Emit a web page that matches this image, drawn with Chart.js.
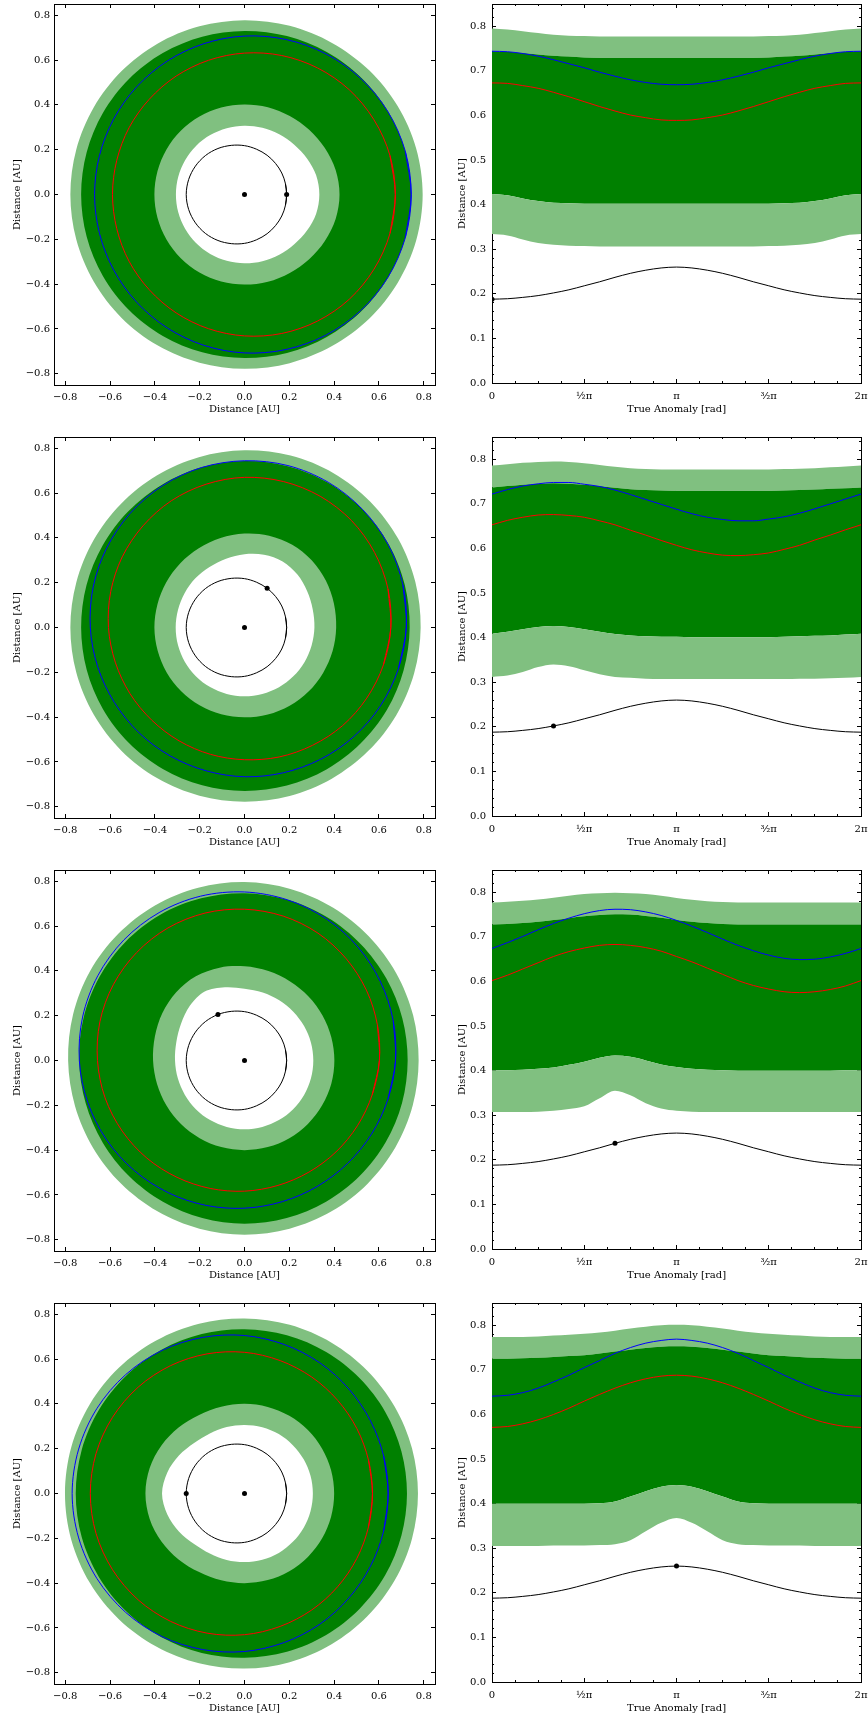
<!DOCTYPE html>
<html>
<head>
<meta charset="utf-8">
<script src="https://cdn.jsdelivr.net/npm/chart.js"></script>
<style>
  body { margin: 0; background: #fff; width: 868px; height: 1716px; position: relative; overflow: hidden; }
  canvas { position: absolute; }
</style>
</head>
<body>
<script>
// ── Data ────────────────────────────────────────────────────
// polar angle / true anomaly, degrees (right panels show 0..2π)
const angleDeg = [0, 15, 30, 45, 60, 75, 90, 105, 120, 135, 150, 165, 180,
                  195, 210, 225, 240, 255, 270, 285, 300, 315, 330, 345, 360];

const anomalyTicks  = [0, 90, 180, 270, 360];
const anomalyLabels = ['0', '½π', 'π', '³⁄₂π', '2π'];
const distanceTicks = [-0.8, -0.6, -0.4, -0.2, 0, 0.2, 0.4, 0.6, 0.8];
const radiusTicks   = [0, 0.1, 0.2, 0.3, 0.4, 0.5, 0.6, 0.7, 0.8];

// secondary star: orbit distance vs angle, and where it sits in each row
const starOrbit = [0.188, 0.189, 0.192, 0.196, 0.202, 0.209, 0.218, 0.227, 0.237, 0.246, 0.253, 0.258, 0.260,
                   0.258, 0.253, 0.246, 0.237, 0.227, 0.218, 0.209, 0.202, 0.196, 0.192, 0.189, 0.188];
const starAngle = [0, 60, 120, 180];
const starDist  = [0.188, 0.202, 0.237, 0.260];

// row 1
const optOuter1  = [0.795, 0.793, 0.789, 0.785, 0.781, 0.779, 0.778, 0.777, 0.777, 0.777, 0.777, 0.777, 0.777,
                    0.777, 0.777, 0.777, 0.777, 0.777, 0.778, 0.779, 0.781, 0.785, 0.789, 0.793, 0.795];
const consOuter1 = [0.744, 0.743, 0.740, 0.737, 0.734, 0.732, 0.730, 0.729, 0.729, 0.729, 0.729, 0.729, 0.729,
                    0.729, 0.729, 0.729, 0.729, 0.729, 0.730, 0.732, 0.734, 0.737, 0.740, 0.743, 0.744];
const consInner1 = [0.424, 0.421, 0.414, 0.408, 0.404, 0.403, 0.402, 0.402, 0.402, 0.402, 0.402, 0.402, 0.402,
                    0.402, 0.402, 0.402, 0.402, 0.402, 0.402, 0.403, 0.404, 0.408, 0.414, 0.421, 0.424];
const optInner1  = [0.334, 0.331, 0.322, 0.314, 0.310, 0.308, 0.307, 0.306, 0.306, 0.306, 0.306, 0.306, 0.306,
                    0.306, 0.306, 0.306, 0.306, 0.306, 0.307, 0.308, 0.310, 0.314, 0.322, 0.331, 0.334];
const blueOrbit1 = [0.744, 0.743, 0.739, 0.733, 0.725, 0.716, 0.707, 0.697, 0.688, 0.680, 0.674, 0.670, 0.669,
                    0.670, 0.674, 0.680, 0.688, 0.697, 0.707, 0.716, 0.725, 0.733, 0.739, 0.743, 0.744];
const redOrbit1  = [0.673, 0.672, 0.667, 0.661, 0.652, 0.642, 0.631, 0.620, 0.610, 0.601, 0.595, 0.590, 0.589,
                    0.590, 0.595, 0.601, 0.610, 0.620, 0.631, 0.642, 0.652, 0.661, 0.667, 0.672, 0.673];

// row 2
const optOuter2  = [0.786, 0.789, 0.792, 0.794, 0.795, 0.794, 0.791, 0.787, 0.783, 0.780, 0.778, 0.777, 0.777,
                    0.777, 0.777, 0.777, 0.777, 0.777, 0.777, 0.778, 0.779, 0.780, 0.782, 0.784, 0.786];
const consOuter2 = [0.737, 0.740, 0.743, 0.745, 0.746, 0.745, 0.743, 0.740, 0.736, 0.733, 0.731, 0.730, 0.729,
                    0.729, 0.729, 0.729, 0.729, 0.729, 0.729, 0.730, 0.731, 0.732, 0.734, 0.735, 0.737];
const consInner2 = [0.409, 0.413, 0.419, 0.424, 0.426, 0.424, 0.419, 0.413, 0.408, 0.405, 0.403, 0.402, 0.402,
                    0.401, 0.401, 0.401, 0.401, 0.401, 0.401, 0.402, 0.403, 0.404, 0.405, 0.407, 0.409];
const optInner2  = [0.312, 0.315, 0.323, 0.334, 0.340, 0.336, 0.327, 0.318, 0.312, 0.310, 0.308, 0.307, 0.307,
                    0.307, 0.307, 0.307, 0.307, 0.307, 0.307, 0.307, 0.308, 0.308, 0.309, 0.310, 0.312];
const blueOrbit2 = [0.722, 0.732, 0.740, 0.745, 0.748, 0.748, 0.744, 0.739, 0.731, 0.721, 0.710, 0.699, 0.688,
                    0.678, 0.670, 0.665, 0.662, 0.662, 0.666, 0.671, 0.679, 0.689, 0.700, 0.711, 0.722];
const redOrbit2  = [0.653, 0.663, 0.670, 0.675, 0.676, 0.674, 0.670, 0.662, 0.653, 0.641, 0.630, 0.618, 0.607,
                    0.597, 0.590, 0.585, 0.584, 0.586, 0.590, 0.598, 0.607, 0.619, 0.630, 0.642, 0.653];

// row 3
const optOuter3  = [0.777, 0.779, 0.781, 0.784, 0.788, 0.792, 0.796, 0.798, 0.799, 0.798, 0.796, 0.792, 0.787,
                    0.783, 0.780, 0.778, 0.777, 0.777, 0.777, 0.777, 0.777, 0.777, 0.777, 0.777, 0.777];
const consOuter3 = [0.728, 0.729, 0.731, 0.734, 0.738, 0.742, 0.746, 0.749, 0.751, 0.750, 0.747, 0.743, 0.738,
                    0.734, 0.731, 0.729, 0.728, 0.728, 0.728, 0.728, 0.728, 0.728, 0.728, 0.728, 0.728];
const consInner3 = [0.401, 0.401, 0.402, 0.404, 0.407, 0.413, 0.420, 0.429, 0.434, 0.431, 0.423, 0.414, 0.408,
                    0.404, 0.402, 0.401, 0.400, 0.400, 0.400, 0.400, 0.400, 0.400, 0.400, 0.401, 0.401];
const optInner3  = [0.307, 0.307, 0.307, 0.308, 0.310, 0.314, 0.320, 0.338, 0.355, 0.345, 0.327, 0.315, 0.310,
                    0.308, 0.307, 0.307, 0.307, 0.307, 0.307, 0.307, 0.307, 0.307, 0.307, 0.307, 0.307];
const blueOrbit3 = [0.674, 0.687, 0.701, 0.716, 0.730, 0.742, 0.752, 0.759, 0.762, 0.761, 0.756, 0.748, 0.737,
                    0.724, 0.710, 0.695, 0.681, 0.669, 0.659, 0.652, 0.649, 0.650, 0.655, 0.663, 0.674];
const redOrbit3  = [0.602, 0.614, 0.628, 0.642, 0.656, 0.667, 0.675, 0.681, 0.683, 0.681, 0.676, 0.668, 0.656,
                    0.644, 0.630, 0.616, 0.602, 0.591, 0.583, 0.577, 0.575, 0.577, 0.582, 0.590, 0.602];

// row 4
const optOuter4  = [0.774, 0.774, 0.774, 0.775, 0.777, 0.779, 0.781, 0.784, 0.788, 0.793, 0.797, 0.800, 0.801,
                    0.800, 0.797, 0.793, 0.788, 0.784, 0.781, 0.779, 0.777, 0.775, 0.774, 0.774, 0.774];
const consOuter4 = [0.725, 0.725, 0.726, 0.727, 0.729, 0.731, 0.733, 0.737, 0.741, 0.745, 0.749, 0.752, 0.753,
                    0.752, 0.749, 0.745, 0.741, 0.737, 0.733, 0.731, 0.729, 0.727, 0.726, 0.725, 0.725];
const consInner4 = [0.400, 0.400, 0.400, 0.400, 0.400, 0.400, 0.400, 0.401, 0.405, 0.416, 0.428, 0.438, 0.442,
                    0.438, 0.428, 0.416, 0.405, 0.401, 0.400, 0.400, 0.400, 0.400, 0.400, 0.400, 0.400];
const optInner4  = [0.305, 0.305, 0.305, 0.305, 0.306, 0.306, 0.306, 0.307, 0.309, 0.318, 0.338, 0.357, 0.368,
                    0.357, 0.338, 0.318, 0.309, 0.307, 0.306, 0.306, 0.306, 0.305, 0.305, 0.305, 0.305];
const blueOrbit4 = [0.641, 0.643, 0.649, 0.659, 0.673, 0.688, 0.705, 0.721, 0.737, 0.750, 0.760, 0.766, 0.769,
                    0.766, 0.760, 0.750, 0.737, 0.721, 0.705, 0.688, 0.673, 0.659, 0.649, 0.643, 0.641];
const redOrbit4  = [0.571, 0.573, 0.579, 0.588, 0.600, 0.614, 0.630, 0.645, 0.659, 0.671, 0.680, 0.686, 0.688,
                    0.686, 0.680, 0.671, 0.659, 0.645, 0.630, 0.614, 0.600, 0.588, 0.579, 0.573, 0.571];

const rows = [
  { optOuter: optOuter1, consOuter: consOuter1, consInner: consInner1, optInner: optInner1, blue: blueOrbit1, red: redOrbit1 },
  { optOuter: optOuter2, consOuter: consOuter2, consInner: consInner2, optInner: optInner2, blue: blueOrbit2, red: redOrbit2 },
  { optOuter: optOuter3, consOuter: consOuter3, consInner: consInner3, optInner: optInner3, blue: blueOrbit3, red: redOrbit3 },
  { optOuter: optOuter4, consOuter: consOuter4, consInner: consInner4, optInner: optInner4, blue: blueOrbit4, red: redOrbit4 }
];

// ── Style ───────────────────────────────────────────────────
const LIGHT = '#80c080';
const DARK  = '#008000';
const ROW_H = 433;
const font  = { family: 'DejaVu Serif', size: 10 };
const rad   = d => d * Math.PI / 180;

// closed ring in x/y; one extra point on each end so the spline closes smoothly
function ring(r) {
  const idx = [angleDeg.length - 2, ...angleDeg.keys(), 1];
  return idx.map(k => ({ x: r[k] * Math.cos(rad(angleDeg[k])), y: r[k] * Math.sin(rad(angleDeg[k])) }));
}

function profile(r) {
  return r.map((v, k) => ({ x: angleDeg[k], y: v }));
}

function signed(v) {
  return (v < -1e-9 ? '−' : '') + Math.abs(v).toFixed(1);
}

// ── Axes helpers ────────────────────────────────────────────
function fixSize(size) {
  return s => {
    if (s.isHorizontal()) s.height = size; else s.width = size;
    s.paddingLeft = s.paddingRight = s.paddingTop = s.paddingBottom = 0;
  };
}

function axis(dir, position, min, max, size, opts) {
  const cfg = {
    type: 'linear', axis: dir, position, min, max, z: 1, weight: 1,
    afterFit: fixSize(size),
    border: { display: true, color: '#000', width: 1 },
    grid: { drawOnChartArea: false, tickLength: -4, tickColor: '#000', tickWidth: 1 },
    ticks: { display: false }
  };
  return Object.assign(cfg, opts);
}

function fixedTicks(values) {
  return s => { s.ticks = values.map(v => ({ value: v })); };
}

function minorAxis(dir, position, min, max, step) {
  return axis(dir, position, min, max, 0, {
    weight: 0,
    border: { display: false },
    grid: { drawOnChartArea: false, tickLength: -2, tickColor: '#000', tickWidth: 1 },
    ticks: { display: false, stepSize: step, includeBounds: false }
  });
}

function makeCanvas(left, top, w, h) {
  const c = document.createElement('canvas');
  c.width = w; c.height = h;
  c.style.left = left + 'px'; c.style.top = top + 'px';
  document.body.appendChild(c);
  return c;
}

const common = {
  type: 'scatter',
  options: {
    responsive: false,
    animation: false,
    devicePixelRatio: 1,
    events: [],
    plugins: { legend: { display: false }, tooltip: { enabled: false } }
  }
};

function lineSet(data, color, order, extra) {
  return Object.assign({
    data, showLine: true, borderColor: color, borderWidth: 1,
    pointRadius: 0, fill: false, order
  }, extra);
}

function areaSet(data, fill, color, order, extra) {
  return Object.assign({
    data, showLine: true, borderWidth: 0, pointRadius: 0,
    fill, backgroundColor: color, order
  }, extra);
}

// ── Charts ──────────────────────────────────────────────────
rows.forEach((row, i) => {
  const top = i * ROW_H;
  const sx = starDist[i] * Math.cos(rad(starAngle[i]));
  const sy = starDist[i] * Math.sin(rad(starAngle[i]));

  // left: top-down view
  const curve = { tension: 0.33 };
  new Chart(makeCanvas(0, top, 445, ROW_H), {
    type: common.type,
    data: {
      datasets: [
        areaSet(ring(row.optOuter), 'shape', LIGHT, 10, curve),
        areaSet(ring(row.consOuter), 'shape', DARK, 9, curve),
        areaSet(ring(row.consInner), 'shape', LIGHT, 8, curve),
        areaSet(ring(row.optInner), 'shape', '#ffffff', 7, curve),
        lineSet(ring(row.blue), '#0000ff', 4, curve),
        lineSet(ring(row.red), '#ff0000', 4, curve),
        lineSet(ring(starOrbit), '#000000', 3, curve),
        { data: [{ x: 0, y: 0 }, { x: sx, y: sy }], showLine: false, pointRadius: 2.5,
          pointBorderWidth: 0, pointBackgroundColor: '#000', order: 1 }
      ]
    },
    options: Object.assign({}, common.options, {
      layout: { padding: { left: 11, right: 10, top: 4, bottom: 18 } },
      scales: {
        x: axis('x', 'bottom', -0.85, 0.85, 30, {
          afterBuildTicks: fixedTicks(distanceTicks),
          ticks: { display: true, padding: 10, maxRotation: 0, autoSkip: false, color: '#000', font, callback: v => signed(v) },
          title: { display: true, text: 'Distance [AU]', color: '#000', font, padding: 0 }
        }),
        xTop: axis('x', 'top', -0.85, 0.85, 0, { afterBuildTicks: fixedTicks(distanceTicks) }),
        y: axis('y', 'left', -0.85, 0.85, 43, {
          afterBuildTicks: fixedTicks(distanceTicks),
          ticks: { display: true, padding: 8, autoSkip: false, color: '#000', font, callback: v => signed(v) },
          title: { display: true, text: 'Distance [AU]', color: '#000', font, padding: 0 }
        }),
        yRight: axis('y', 'right', -0.85, 0.85, 0, { afterBuildTicks: fixedTicks(distanceTicks) })
      }
    })
  });

  // right: distance against angle
  const smooth = { cubicInterpolationMode: 'monotone' };
  new Chart(makeCanvas(445, top, 423, ROW_H), {
    type: common.type,
    data: {
      datasets: [
        areaSet(profile(row.optOuter), 1, LIGHT, 10, smooth),
        areaSet(profile(row.consOuter), 2, DARK, 9, smooth),
        areaSet(profile(row.consInner), 3, LIGHT, 8, smooth),
        areaSet(profile(row.optInner), false, LIGHT, 7, smooth),
        lineSet(profile(row.blue), '#0000ff', 4, smooth),
        lineSet(profile(row.red), '#ff0000', 4, smooth),
        lineSet(profile(starOrbit), '#000000', 3, smooth),
        { data: [{ x: starAngle[i], y: starDist[i] }], showLine: false, pointRadius: 2.5,
          pointBorderWidth: 0, pointBackgroundColor: '#000', order: 1 }
      ]
    },
    options: Object.assign({}, common.options, {
      layout: { padding: { left: 11, right: 7, top: 3, bottom: 18 } },
      scales: {
        x: axis('x', 'bottom', 0, 360, 32, {
          afterBuildTicks: fixedTicks(anomalyTicks),
          ticks: { display: true, padding: 11, maxRotation: 0, autoSkip: false, color: '#000', font,
                   callback: (v, k) => anomalyLabels[k] },
          title: { display: true, text: 'True Anomaly [rad]', color: '#000', font, padding: 0 }
        }),
        xMinor: minorAxis('x', 'bottom', 0, 360, 22.5),
        xTop: axis('x', 'top', 0, 360, 0, { afterBuildTicks: fixedTicks(anomalyTicks) }),
        xTopMinor: minorAxis('x', 'top', 0, 360, 22.5),
        y: axis('y', 'left', 0, 0.85, 36, {
          afterBuildTicks: fixedTicks(radiusTicks),
          ticks: { display: true, padding: 10, autoSkip: false, color: '#000', font, callback: v => v.toFixed(1) },
          title: { display: true, text: 'Distance [AU]', color: '#000', font, padding: 0 }
        }),
        yMinor: minorAxis('y', 'left', 0, 0.85, 0.02),
        yRight: axis('y', 'right', 0, 0.85, 0, { afterBuildTicks: fixedTicks(radiusTicks) }),
        yRightMinor: minorAxis('y', 'right', 0, 0.85, 0.02)
      }
    })
  });
});
</script>
</body>
</html>
